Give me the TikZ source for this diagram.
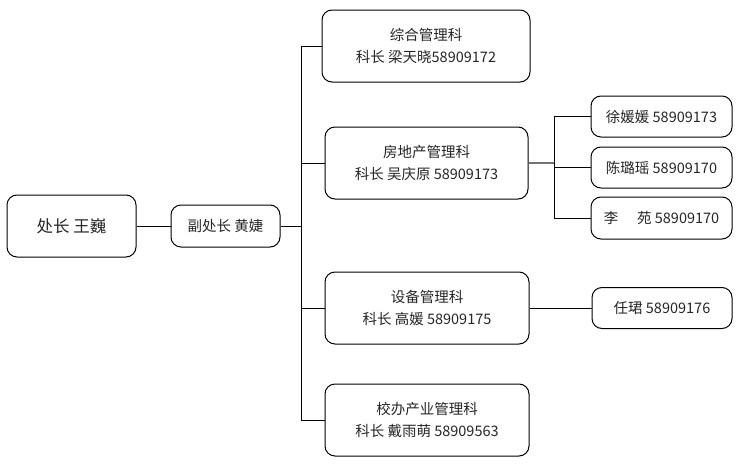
\documentclass[tikz,border=0pt]{standalone}
\usepackage{fontspec}
\setmainfont{Noto Sans CJK SC}
\begin{document}
\begin{tikzpicture}[x=1pt,y=-1pt,
  box/.style={draw=black,line width=1pt,rounded corners=10pt,inner sep=0pt,align=center,
    font=\fontsize{14.5}{22}\selectfont,text=black!85},
  link/.style={draw=black,line width=1pt},
  glink/.style={draw=black!55,line width=1.3pt}]
\useasboundingbox (0,0) rectangle (740,474);
\node[box,minimum width=129pt,minimum height=62pt,font=\fontsize{16.5}{22}\selectfont] (a) at (71.5,226) {处长 王巍};
\node[box,minimum width=109pt,minimum height=42pt] (b) at (225.5,226) {副处长 黄婕};
\node[box,minimum width=208pt,minimum height=72pt] (c1) at (426,46) {综合管理科\\科长 梁天晓58909172};
\node[box,minimum width=203pt,minimum height=72pt] (c2) at (426.5,163) {房地产管理科\\科长 吴庆原 58909173};
\node[box,minimum width=204pt,minimum height=72pt] (c3) at (427,308) {设备管理科\\科长 高媛 58909175};
\node[box,minimum width=204pt,minimum height=72pt] (c4) at (427,420) {校办产业管理科\\科长 戴雨萌 58909563};
\node[box,minimum width=141pt,minimum height=41pt] (d1) at (661.5,116.5) {徐媛媛 58909173};
\node[box,minimum width=141pt,minimum height=41pt] (d2) at (661.5,167.5) {陈璐瑶 58909170};
\node[box,minimum width=141pt,minimum height=42pt] (d3) at (661.5,218) {李\hspace{1.3em}苑 58909170};
\node[box,minimum width=140pt,minimum height=41pt] (d4) at (662,308) {任珺 58909176};
\coordinate (t) at (301,226);
\coordinate (t1) at (301,46);
\coordinate (t4) at (301,420);
\coordinate (s) at (554,163);
\coordinate (s1) at (554,116.5);
\coordinate (s3) at (554,218);
\draw[link] (a.east) -- (b.west);
\draw[link] (b.east) -- (t);
\draw[link] (t1) -- (t4);
\draw[link] (t1) -- (c1.west);
\draw[link] (c2.west -| t) -- (c2.west);
\draw[link] (c3.west -| t) -- (c3.west);
\draw[link] (t4) -- (c4.west);
\draw[glink] (c2.east) -- (s);
\draw[link] (s1) -- (s3);
\draw[link] (s1) -- (d1.west);
\draw[link] (d2.west -| s) -- (d2.west);
\draw[link] (s3) -- (d3.west);
\draw[link] (c3.east) -- (d4.west);
\end{tikzpicture}
\end{document}
